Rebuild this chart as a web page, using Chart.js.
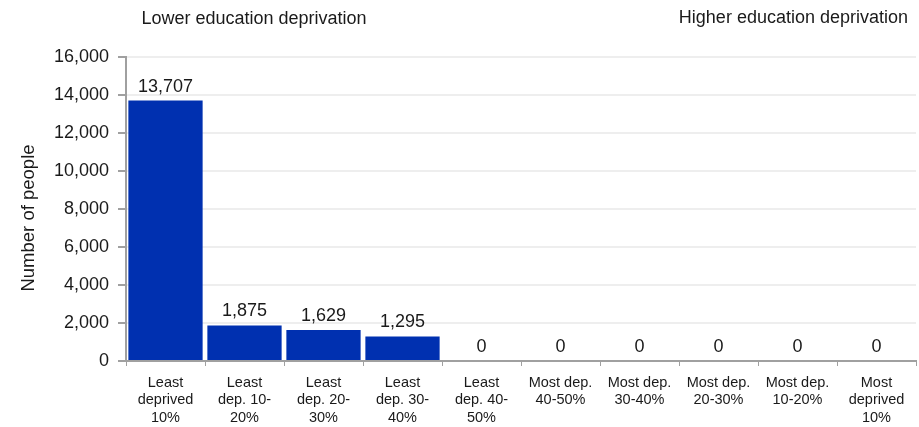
<!DOCTYPE html>
<html>
<head>
<meta charset="utf-8">
<script src="https://cdn.jsdelivr.net/npm/chart.js@4/dist/chart.umd.min.js"></script>
<style>
html,body{margin:0;padding:0;background:#fff;}
#wrap{position:relative;width:919px;height:427px;}
</style>
</head>
<body>
<div id="wrap"><canvas id="c" width="919" height="427"></canvas></div>
<script>
const categories = [
  ["Least","deprived","10%"],
  ["Least","dep. 10-","20%"],
  ["Least","dep. 20-","30%"],
  ["Least","dep. 30-","40%"],
  ["Least","dep. 40-","50%"],
  ["Most dep.","40-50%"],
  ["Most dep.","30-40%"],
  ["Most dep.","20-30%"],
  ["Most dep.","10-20%"],
  ["Most","deprived","10%"]
];
const peopleValues = [13707, 1875, 1629, 1295, 0, 0, 0, 0, 0, 0];
const yTicks = [0, 2000, 4000, 6000, 8000, 10000, 12000, 14000, 16000];
const leftHeader = "Lower education deprivation";
const rightHeader = "Higher education deprivation";
const yTitle = "Number of people";

const FONT = "'Liberation Sans', Arial, Helvetica, sans-serif";
const fmt = v => v.toLocaleString('en-US');

const extras = {
  id: 'extras',
  afterDatasetsDraw(chart) {
    const ctx = chart.ctx;
    const meta = chart.getDatasetMeta(0);
    ctx.save();
    ctx.fillStyle = '#1a1a1a';
    ctx.font = "18px " + FONT;
    ctx.textAlign = 'center';
    ctx.textBaseline = 'bottom';
    meta.data.forEach((bar, i) => {
      ctx.fillText(fmt(peopleValues[i]), bar.x, bar.y - 5);
    });
    // headers
    ctx.font = "18px " + FONT;
    ctx.textBaseline = 'middle';
    ctx.textAlign = 'center';
    ctx.fillText(leftHeader, 254, 19);
    ctx.textAlign = 'right';
    ctx.fillText(rightHeader, 908, 18);
    // y title
    ctx.font = "18.5px " + FONT;
    ctx.translate(29, 218);
    ctx.rotate(-Math.PI / 2);
    ctx.textAlign = 'center';
    ctx.fillText(yTitle, 0, 0);
    ctx.restore();
  }
};

new Chart(document.getElementById('c'), {
  type: 'bar',
  data: {
    labels: categories,
    datasets: [{
      data: peopleValues,
      backgroundColor: 'rgb(0,48,176)',
      barPercentage: 0.94,
      categoryPercentage: 1.0
    }]
  },
  options: {
    responsive: false,
    animation: false,
    devicePixelRatio: 1,
    layout: { padding: { top: 57, right: 3, left: 0, bottom: 0 } },
    plugins: { legend: { display: false }, tooltip: { enabled: false } },
    scales: {
      x: {
        grid: { drawOnChartArea: false, tickLength: 5, color: '#a0a0a0', offset: true },
        border: { color: '#a0a0a0', width: 2 },
        ticks: { color: '#1a1a1a', font: { family: FONT, size: 14.5 }, padding: 8, maxRotation: 0, autoSkip: false },
        afterFit(scale) { scale.height = 66; }
      },
      y: {
        min: 0, max: 16000,
        afterBuildTicks(scale) { scale.ticks = yTicks.map(v => ({ value: v })); },
        grid: { color: '#eeeeee', tickColor: '#a0a0a0', tickLength: 8, lineWidth: 2 },
        border: { color: '#a0a0a0', width: 2 },
        ticks: { color: '#1a1a1a', font: { family: FONT, size: 18 }, padding: 9, callback: v => fmt(v) },
        afterFit(scale) { scale.width = 126; }
      }
    }
  },
  plugins: [extras]
});
</script>
</body>
</html>
